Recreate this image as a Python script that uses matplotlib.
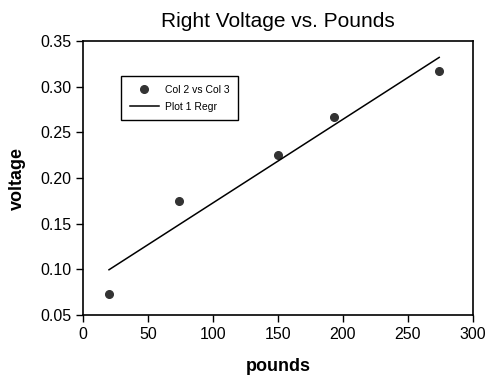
import numpy as np
import matplotlib.pyplot as plt

plt.rcParams['font.family'] = ['Liberation Sans', 'DejaVu Sans']

pounds = [20, 74, 150, 193, 274]
voltage = [0.073, 0.175, 0.225, 0.267, 0.317]

fig = plt.figure(figsize=(4.89, 3.76), dpi=100)
ax = fig.add_axes([83 / 489, 1 - 315 / 376, 390 / 489, 274 / 376])

ax.plot(pounds, voltage, 'o', color='#333333', markersize=5.5, label='Col 2 vs Col 3')
slope, intercept = np.polyfit(pounds, voltage, 1)
xs = np.array([pounds[0], pounds[-1]])
ax.plot(xs, slope * xs + intercept, '-', color='black', lw=1.1, label='Plot 1 Regr')

ax.set_xlim(0, 300)
ax.set_ylim(0.05, 0.35)
ax.set_xticks(np.arange(0, 301, 50))
ax.set_yticks(np.arange(0.05, 0.351, 0.05))
ax.yaxis.set_major_formatter(plt.FormatStrFormatter('%.2f'))
ax.tick_params(direction='out', length=5, width=1, labelsize=11.5)
for s in ax.spines.values():
    s.set_linewidth(1.2)

ax.set_title('Right Voltage vs. Pounds', fontsize=15, pad=10)
ax.set_xlabel('pounds', fontsize=13, fontweight='bold', labelpad=12)
ax.set_ylabel('voltage', fontsize=13, fontweight='bold', labelpad=10)

leg = ax.legend(loc='upper left', bbox_to_anchor=(0.085, 0.89), fontsize=7.5,
                fancybox=False, edgecolor='black', framealpha=1,
                borderpad=0.8, handlelength=2.8, handletextpad=0.6,
                labelspacing=0.7)
leg.get_frame().set_linewidth(1.0)

fig.savefig('out.png', dpi=100)
